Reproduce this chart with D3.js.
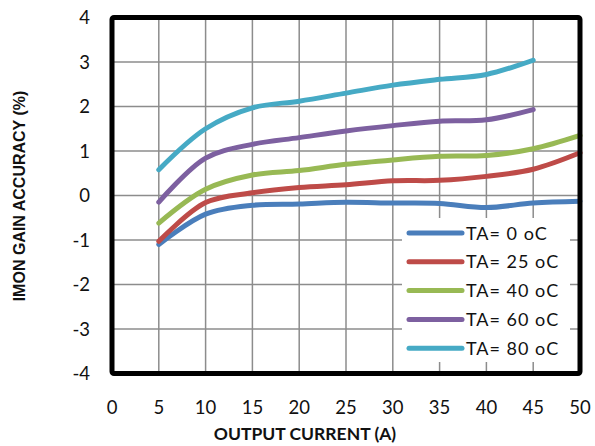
<!DOCTYPE html>
<html>
<head>
<meta charset="utf-8">
<script src="https://cdn.jsdelivr.net/npm/d3@7.9.0/dist/d3.min.js"></script>
<style>
  body { margin: 0; background: #fff; }
  svg { display: block; }
  .tick-label { font-family: Lato, "Open Sans", sans-serif; font-size: 18.5px; fill: #111; }
  .legend-label { font-family: Lato, "Open Sans", sans-serif; font-size: 18px; fill: #111; letter-spacing: 1px; }
</style>
</head>
<body>
<svg width="595" height="446"></svg>
<script>
// output current (A)
const currents = [5, 10, 15, 20, 25, 30, 35, 40, 45, 50];

// IMON gain accuracy (%) per ambient temperature
const ta0  = [-1.1, -0.42, -0.22, -0.19, -0.15, -0.17, -0.18, -0.27, -0.17, -0.13];
const ta25 = [-1.03, -0.16, 0.06, 0.18, 0.24, 0.33, 0.34, 0.43, 0.59, 0.96];
const ta40 = [-0.62, 0.14, 0.46, 0.56, 0.7, 0.8, 0.88, 0.9, 1.05, 1.35];
const ta60 = [-0.15, 0.84, 1.15, 1.3, 1.45, 1.57, 1.67, 1.7, 1.93];
const ta80 = [0.58, 1.5, 1.97, 2.12, 2.3, 2.48, 2.61, 2.72, 3.04];

const seriesNames = ['TA= 0 oC', 'TA= 25 oC', 'TA= 40 oC', 'TA= 60 oC', 'TA= 80 oC'];
const seriesValues = [ta0, ta25, ta40, ta60, ta80];
const colors = ['#4a7ebb', '#be4b48', '#98b954', '#7d60a0', '#46aac5'];

const xTicks = d3.range(0, 51, 5);
const yTicks = d3.range(-4, 5, 1);

const plotLeft = 112, plotRight = 580, plotTop = 17.5, plotBottom = 373.5;

const svg = d3.select('svg');

const x = d3.scaleLinear().domain([0, 50]).range([plotLeft, plotRight]);
const y = d3.scaleLinear().domain([-4, 4]).range([plotBottom, plotTop]);

// gridlines
svg.append('g')
  .selectAll('line')
  .data(xTicks.slice(1, -1))
  .join('line')
  .attr('x1', d => x(d)).attr('x2', d => x(d))
  .attr('y1', plotTop).attr('y2', plotBottom)
  .attr('stroke', '#8c8c8c').attr('stroke-width', 1.5);

svg.append('g')
  .selectAll('line')
  .data(yTicks.slice(1, -1))
  .join('line')
  .attr('x1', plotLeft).attr('x2', plotRight)
  .attr('y1', d => y(d)).attr('y2', d => y(d))
  .attr('stroke', '#8c8c8c').attr('stroke-width', 1.5);

// tick labels
svg.append('g')
  .selectAll('text')
  .data(xTicks)
  .join('text')
  .attr('class', 'tick-label')
  .attr('x', d => x(d))
  .attr('y', 414)
  .attr('text-anchor', 'middle')
  .text(d => d);

svg.append('g')
  .selectAll('text')
  .data(yTicks)
  .join('text')
  .attr('class', 'tick-label')
  .attr('x', 90)
  .attr('y', d => y(d) + 6.5)
  .attr('text-anchor', 'end')
  .text(d => d);

// axis titles
svg.append('text')
  .attr('x', 305)
  .attr('y', 440)
  .attr('text-anchor', 'middle')
  .attr('font-family', 'Lato, sans-serif')
  .attr('font-weight', 'bold')
  .attr('font-size', 17.5)
  .attr('fill', '#111')
  .text('OUTPUT CURRENT (A)');

svg.append('text')
  .attr('transform', 'translate(25,196) rotate(-90)')
  .attr('text-anchor', 'middle')
  .attr('font-family', '"Liberation Sans", Arial, sans-serif')
  .attr('font-weight', 'bold')
  .attr('font-size', 16)
  .attr('fill', '#111')
  .text('IMON GAIN ACCURACY (%)');

// series
const line = d3.line()
  .x((d, i) => x(currents[i]))
  .y(d => y(d))
  .curve(d3.curveCatmullRom.alpha(0.5));

seriesValues.forEach((vals, i) => {
  svg.append('path')
    .attr('d', line(vals))
    .attr('fill', 'none')
    .attr('stroke', colors[i])
    .attr('stroke-width', 5)
    .attr('stroke-linecap', 'round')
    .attr('stroke-linejoin', 'round');
});

// legend
const legend = svg.append('g');
legend.append('rect')
  .attr('x', 402).attr('y', 218)
  .attr('width', 168).attr('height', 144)
  .attr('fill', '#fff');

seriesNames.forEach((name, i) => {
  const ly = 233 + i * 28.8;
  legend.append('line')
    .attr('x1', 409).attr('x2', 462)
    .attr('y1', ly).attr('y2', ly)
    .attr('stroke', colors[i])
    .attr('stroke-width', 5)
    .attr('stroke-linecap', 'round');
  legend.append('text')
    .attr('class', 'legend-label')
    .attr('x', 466)
    .attr('y', ly + 6.5)
    .text(name);
});

// plot border
svg.append('rect')
  .attr('x', plotLeft).attr('y', plotTop)
  .attr('width', plotRight - plotLeft).attr('height', plotBottom - plotTop)
  .attr('fill', 'none')
  .attr('stroke', '#000')
  .attr('stroke-width', 5)
  .attr('rx', 2);
</script>
</body>
</html>
